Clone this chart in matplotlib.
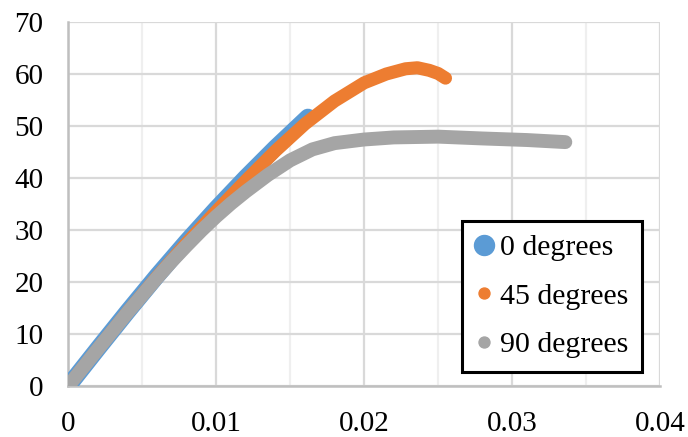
import matplotlib
matplotlib.use('Agg')
import matplotlib.pyplot as plt
from matplotlib.lines import Line2D
from matplotlib.ticker import MultipleLocator

plt.rcParams['font.family'] = ['Liberation Serif', 'DejaVu Serif']

# strain / stress readings for each fibre angle
strain_0 = [0, 0.002, 0.004, 0.006, 0.008, 0.010, 0.012, 0.014, 0.0162]
stress_0 = [0, 7.2, 14.3, 21.2, 27.8, 34.1, 40.1, 45.8, 51.7]

strain_45 = [0, 0.002, 0.004, 0.006, 0.008, 0.010, 0.012, 0.014, 0.016,
             0.018, 0.020, 0.0215, 0.0228, 0.0236, 0.0244, 0.0250, 0.0255]
stress_45 = [0, 7.15, 14.2, 21.0, 27.5, 33.6, 39.5, 45.2, 50.4,
             54.8, 58.3, 60.0, 61.0, 61.2, 60.7, 60.1, 59.2]

strain_90 = [0, 0.002, 0.004, 0.006, 0.007, 0.008, 0.009, 0.010, 0.011,
             0.012, 0.0135, 0.015, 0.0165, 0.018, 0.020, 0.022, 0.025,
             0.028, 0.031, 0.0336]
stress_90 = [0, 7.1, 14.1, 20.8, 24.0, 27.0, 29.9, 32.6, 35.1,
             37.4, 40.6, 43.4, 45.5, 46.7, 47.4, 47.8, 47.95,
             47.6, 47.3, 46.9]

labels = ['0 degrees', '45 degrees', '90 degrees']
colors = ['#5B9BD5', '#ED7D31', '#A5A5A5']

fig = plt.figure(figsize=(6.88, 4.37), dpi=100)
ax = fig.add_axes([0.0993, 0.1167, 0.8600, 0.8330])

series = [(strain_0, stress_0, 12.2), (strain_45, stress_45, 9.4),
          (strain_90, stress_90, 10.0)]
for (xs, ys, lw), c in zip(series, colors):
    ax.plot(xs, ys, color=c, lw=lw, solid_capstyle='round',
            solid_joinstyle='round', zorder=3)

ax.set_xlim(0, 0.04)
ax.set_ylim(0, 70)
ax.set_xticks([0, 0.01, 0.02, 0.03, 0.04])
ax.set_xticklabels(['0', '0.01', '0.02', '0.03', '0.04'])
ax.xaxis.set_minor_locator(MultipleLocator(0.005))
ax.yaxis.set_major_locator(MultipleLocator(10))
ax.grid(which='major', color='#d9d9d9', lw=1.6, zorder=0)
ax.grid(which='minor', axis='x', color='#efefef', lw=1.6, zorder=0)
ax.set_axisbelow(True)

ax.tick_params(which='both', length=0, labelsize=21)
ax.tick_params(axis='y', pad=18)
ax.tick_params(axis='x', pad=18)

for side in ['top', 'right']:
    ax.spines[side].set_visible(False)
for side in ['left', 'bottom']:
    ax.spines[side].set_color('#bfbfbf')
    ax.spines[side].set_linewidth(1.8)

handles = [
    Line2D([], [], ls='none', marker='o', ms=14.4, color=colors[0]),
    Line2D([], [], ls='none', marker='o', ms=7.9, color=colors[1]),
    Line2D([], [], ls='none', marker='o', ms=7.9, color=colors[2]),
]
leg = ax.legend(handles, labels, loc='upper left',
                bbox_to_anchor=(461.7 / 688, 1 - 220.7 / 437),
                bbox_transform=fig.transFigure, fontsize=21.5,
                frameon=True, fancybox=False, borderpad=0.45,
                handlelength=0.6, handletextpad=0.23, labelspacing=0.73,
                borderaxespad=0, framealpha=1)
leg.get_frame().set_edgecolor('black')
leg.get_frame().set_linewidth(2.2)
leg.set_zorder(5)

fig.savefig('out.png', dpi=100)
